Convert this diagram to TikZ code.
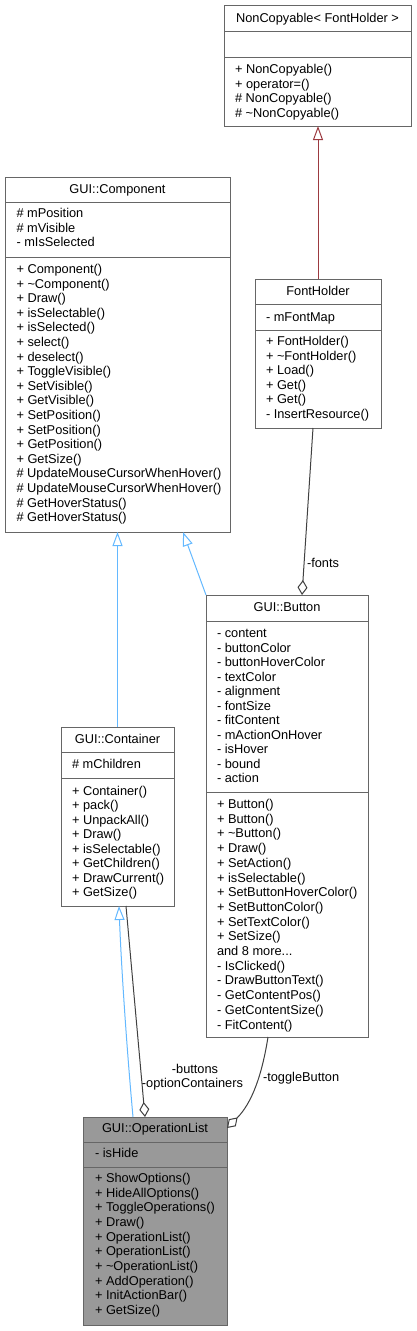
\documentclass[tikz,border=0pt]{standalone}
\usepackage{fontspec}
\setmainfont{Liberation Sans}
\usetikzlibrary{arrows.meta,calc}
\definecolor{boxgray}{HTML}{666666}
\definecolor{opfill}{HTML}{999999}
\definecolor{inhblue}{HTML}{63B8FF}
\definecolor{inhred}{HTML}{9C3A40}
\definecolor{usegray}{HTML}{404040}
\newcommand\cfont{\fontsize{12.8pt}{14.6pt}\selectfont}
\tikzset{
  cbox/.style={draw=boxgray, line width=1pt, inner sep=0pt, outer sep=0pt, anchor=north west},
  divl/.style={draw=boxgray, line width=1pt},
  mem/.style={anchor=base west, inner sep=0pt, outer sep=0pt, font=\cfont, text=black},
  ttl/.style={anchor=base, inner sep=0pt, outer sep=0pt, font=\cfont, text=black},
  lbl/.style={inner sep=0pt, outer sep=0pt, font=\cfont, text=black},
  inhB/.style={draw=inhblue, line width=1pt, -{Triangle[open, length=14pt, width=10pt]}},
  inhR/.style={draw=inhred, line width=1pt, -{Triangle[open, length=14pt, width=10pt]}},
  compo/.style={draw=usegray, line width=1pt, -{Diamond[open, length=15pt, width=10pt]}},
}
\newcommand\classbox[8]{%
  \pgfmathsetmacro\cbw{#3-#2}%
  \pgfmathsetmacro\cbh{#7-#4}%
  \node[cbox, fill=#8, minimum width=\cbw pt, minimum height=\cbh pt] (#1) at (#2,#4) {};
  \draw[divl] (#2,#5) -- (#3,#5) (#2,#6) -- (#3,#6);
}
\newcommand\mlist[5]{%
  \foreach \t [count=\i] in {#5} {\node[mem] (#1\i) at (#2,{#3+(\i-1)*#4}) {\t};}
}
\begin{document}
\begin{tikzpicture}[x=1pt,y=-1pt]
\useasboundingbox (0,0) rectangle (417,1331);

% NonCopyable< FontHolder >
\classbox{nc}{224}{411}{5}{31}{57}{126}{white}
\node[ttl] (nct) at (317.5,22.5) {NonCopyable< FontHolder >};
\mlist{ncm}{235}{73.5}{14.6}{{+ NonCopyable()},{+ operator=()},{\# NonCopyable()},{\# \textasciitilde NonCopyable()}}

% FontHolder
\classbox{fh}{255}{381}{279}{304}{330}{428}{white}
\node[ttl] (fht) at (318,295.5) {FontHolder};
\mlist{fha}{266}{321.5}{14.6}{{- mFontMap}}
\mlist{fhm}{266}{345.5}{14.6}{{+ FontHolder()},{+ \textasciitilde FontHolder()},{+ Load()},{+ Get()},{+ Get()},{- InsertResource()}}

% GUI::Component
\classbox{comp}{5}{230}{177}{202}{257}{532}{white}
\node[ttl] (compt) at (117.5,193) {GUI::Component};
\mlist{compa}{16.5}{217.5}{14.6}{{\# mPosition},{\# mVisible},{- mIsSelected}}
\mlist{compm}{16.5}{273.5}{14.6}{{+ Component()},{+ \textasciitilde Component()},{+ Draw()},{+ isSelectable()},{+ isSelected()},{+ select()},{+ deselect()},{+ ToggleVisible()},{+ SetVisible()},{+ GetVisible()},{+ SetPosition()},{+ SetPosition()},{+ GetPosition()},{+ GetSize()},{\# UpdateMouseCursorWhenHover()},{\# UpdateMouseCursorWhenHover()},{\# GetHoverStatus()},{\# GetHoverStatus()}}

% GUI::Button
\classbox{btn}{206}{368}{595}{621}{792}{1037}{white}
\node[ttl] (btnt) at (287,611.5) {GUI::Button};
\mlist{btna}{217}{637.5}{14.5}{{- content},{- buttonColor},{- buttonHoverColor},{- textColor},{- alignment},{- fontSize},{- fitContent},{- mActionOnHover},{- isHover},{- bound},{- action}}
\mlist{btnm}{217}{808.5}{14.7}{{+ Button()},{+ Button()},{+ \textasciitilde Button()},{+ Draw()},{+ SetAction()},{+ isSelectable()},{+ SetButtonHoverColor()},{+ SetButtonColor()},{+ SetTextColor()},{+ SetSize()},{and 8 more.{}.{}.},{- IsClicked()},{- DrawButtonText()},{- GetContentPos()},{- GetContentSize()},{- FitContent()}}

% GUI::Container
\classbox{cont}{61}{174}{727}{752}{778}{906}{white}
\node[ttl] (contt) at (117.5,743.5) {GUI::Container};
\mlist{conta}{72}{768.5}{14.6}{{\# mChildren}}
\mlist{contm}{72}{795.5}{14.45}{{+ Container()},{+ pack()},{+ UnpackAll()},{+ Draw()},{+ isSelectable()},{+ GetChildren()},{+ DrawCurrent()},{+ GetSize()}}

% GUI::OperationList
\classbox{opl}{83}{227}{1117}{1142}{1167}{1325}{opfill}
\node[ttl] (oplt) at (155,1132.5) {GUI::OperationList};
\mlist{opla}{95}{1157.5}{14.6}{{- isHide}}
\mlist{oplm}{95}{1182.5}{14.65}{{+ ShowOptions()},{+ HideAllOptions()},{+ ToggleOperations()},{+ Draw()},{+ OperationList()},{+ OperationList()},{+ \textasciitilde OperationList()},{+ AddOperation()},{+ InitActionBar()},{+ GetSize()}}

% connectors
\draw[inhR] (fh.north) -- (fh.north |- nc.south);
\draw[inhB] (cont.north) -- (cont.north |- comp.south);
\draw[inhB] (btn.north west) -- ([xshift=65.5pt]comp.south);
\draw[inhB] ([xshift=-22pt]opl.north) .. controls (126,1040) and (121,960) .. ([xshift=1.5pt]cont.south);
\draw[compo] ([xshift=8.5pt]cont.south) -- ([xshift=-10pt]opl.north);
\draw[compo] ([xshift=-5pt]fh.south) -- ([xshift=15pt]btn.north);
\draw[compo] ([xshift=-19pt]btn.south) .. controls (262,1075) and (252,1103) .. ([yshift=-11pt]opl.north east);

% labels
\node[lbl, anchor=base west] (lfonts) at (307,567.5) {-fonts};
\node[lbl, anchor=base west] (ltog) at (263,1081.5) {-toggleButton};
\node[lbl, anchor=base] (lbtns) at (195,1073.5) {-buttons};
\node[lbl, anchor=base] (lopt) at (192.5,1087.5) {-optionContainers};
\end{tikzpicture}
\end{document}
